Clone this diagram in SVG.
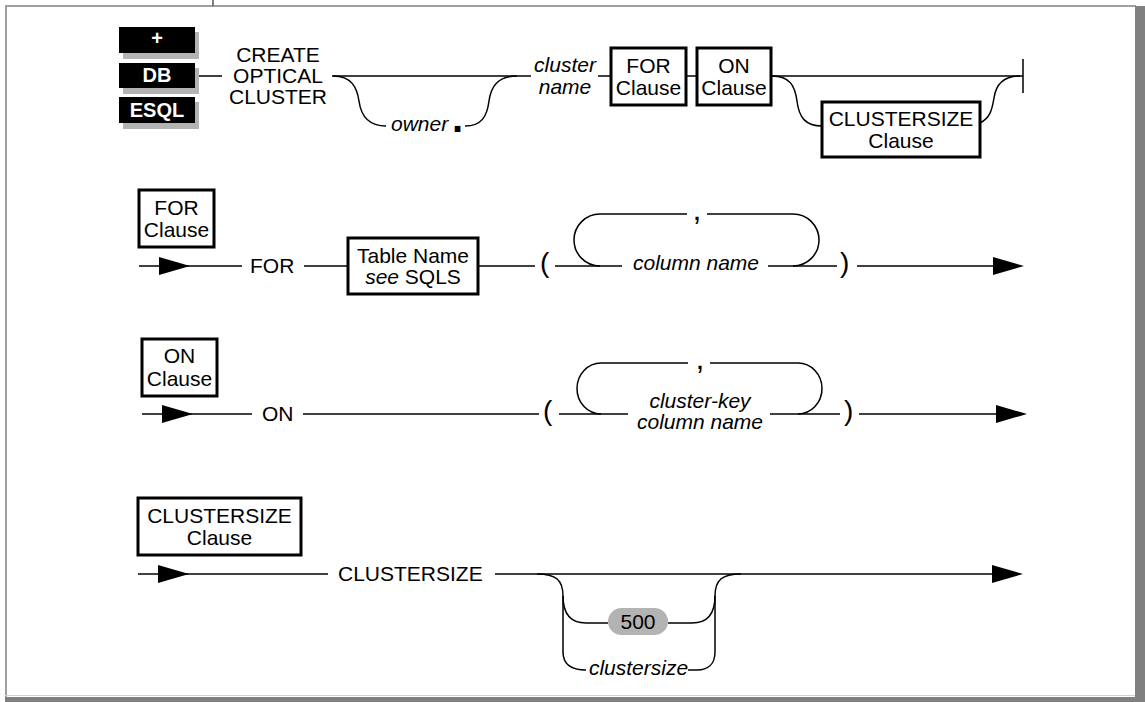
<svg xmlns="http://www.w3.org/2000/svg" width="1145" height="702" viewBox="0 0 1145 702">
<style>
text{font-family:"Liberation Sans",Arial,sans-serif;font-size:21px;fill:#000}
.it{font-style:italic}
.mid{text-anchor:middle}
.badge{font-weight:bold;fill:#fff;font-size:20px;text-anchor:middle}
.ln{fill:none;stroke:#000;stroke-width:1.5}
.box{fill:#fff;stroke:#000;stroke-width:3}
.shadow{fill:#b3b3b3}
.blk{fill:#000}
.paren{font-size:28px}
.comma{font-size:32px;text-anchor:middle}
</style>
<defs>
<polygon id="arr" points="0,-9 31,0 0,9" fill="#000"/>
</defs>
<rect x="0" y="0" width="1145" height="702" fill="#fff"/>
<g id="frame">
<rect x="5" y="5" width="1131" height="2" fill="#a0a0a0"/>
<rect x="5" y="5" width="2" height="692" fill="#a0a0a0"/>
<rect x="1135" y="6" width="10" height="696" fill="#808080"/>
<rect x="5" y="697" width="1140" height="5" fill="#808080"/>
<rect x="5" y="695" width="1130" height="1" fill="#d0d0d0"/>
<line x1="213" y1="0" x2="213" y2="6" stroke="#555" stroke-width="1.5"/>
</g>
<g id="badges">
<rect class="shadow" x="123" y="32" width="76" height="27"/>
<rect class="blk" x="119" y="27" width="76" height="26"/>
<text class="badge" x="157" y="45">+</text>
<rect class="shadow" x="123" y="68" width="76" height="26"/>
<rect class="blk" x="119" y="63" width="76" height="25"/>
<text class="badge" x="157" y="82">DB</text>
<rect class="shadow" x="123" y="102" width="76" height="27"/>
<rect class="blk" x="119" y="97" width="76" height="26"/>
<text class="badge" x="157" y="117">ESQL</text>
</g>
<g id="connectors">
<path class="ln" d="M199,76 H222"/>
<path class="ln" d="M332,76 H531"/>
<path class="ln" d="M333,76 C352,76 357,88 359,101 C361,116 368,126 386,126"/>
<path class="ln" d="M465,126 C482,126 487,116 489,101 C491,86 498,76 517,76"/>
<path class="ln" d="M598,76 H611"/>
<path class="ln" d="M686,76 H697"/>
<path class="ln" d="M771,76 H1023"/>
<path class="ln" d="M1023,59 V93"/>
<path class="ln" d="M772,76 C790,76 795,86 797,101 C799,118 806,126 822,126"/>
<path class="ln" d="M980,123 C990,118 992,110 994,98 C996,84 1004,76 1020,76"/>
<path class="ln" d="M139,266 H242"/>
<use href="#arr" x="159" y="266"/>
<path class="ln" d="M304,266 H348"/>
<path class="ln" d="M478,266 H535"/>
<path class="ln" d="M555,266 H622"/>
<path class="ln" d="M768,266 H837"/>
<path class="ln" d="M600,266 A26,26 0 0 1 600,214 H687"/>
<path class="ln" d="M707,214 H793 A26,26 0 0 1 793,266"/>
<path class="ln" d="M857,266 H995"/>
<use href="#arr" x="993" y="266"/>
<path class="ln" d="M142,414 H252"/>
<use href="#arr" x="162" y="414"/>
<path class="ln" d="M303,414 H539"/>
<path class="ln" d="M559,414 H628"/>
<path class="ln" d="M770,414 H840"/>
<path class="ln" d="M601,414 A24,25.5 0 0 1 601,363 H688"/>
<path class="ln" d="M710,363 H798 A24,25.5 0 0 1 798,414"/>
<path class="ln" d="M859,414 H998"/>
<use href="#arr" x="996" y="414"/>
<path class="ln" d="M138,574 H328"/>
<use href="#arr" x="158" y="574"/>
<path class="ln" d="M495,574 H994"/>
<use href="#arr" x="992" y="574"/>
<path class="ln" d="M537,574 C556,574 563,580 563,596 V652 C563,664 570,670 586,670"/>
<path class="ln" d="M563,596 C563,614 570,623 586,623 H608"/>
<path class="ln" d="M668,623 H692 C708,623 715,614 715,596"/>
<path class="ln" d="M688,670 H697 C708,670 715,664 715,652 V596 C715,580 722,574 741,574"/>
</g>
<g id="n-create">
<text class="mid" x="278" y="62">CREATE</text>
<text class="mid" x="278" y="83">OPTICAL</text>
<text class="mid" x="278" y="104">CLUSTER</text>
</g>
<g id="n-owner">
<text class="it" x="391" y="131">owner</text>
<text x="452" y="132" style="font-size:40px;font-weight:bold">.</text>
</g>
<g id="n-clustername">
<text class="it mid" x="565" y="72">cluster</text>
<text class="it mid" x="565" y="94">name</text>
</g>
<g id="n-forclause-top">
<rect class="box" x="611" y="48" width="75" height="57"/>
<text class="mid" x="648.5" y="73">FOR</text>
<text class="mid" x="648.5" y="95">Clause</text>
</g>
<g id="n-onclause-top">
<rect class="box" x="697" y="48" width="74" height="57"/>
<text class="mid" x="734" y="73">ON</text>
<text class="mid" x="734" y="95">Clause</text>
</g>
<g id="n-csclause-top">
<rect class="box" x="822" y="102" width="158" height="55"/>
<text class="mid" x="901" y="126">CLUSTERSIZE</text>
<text class="mid" x="901" y="148">Clause</text>
</g>
<g id="n-forclause">
<rect class="box" x="139" y="190" width="75" height="57"/>
<text class="mid" x="176.5" y="215">FOR</text>
<text class="mid" x="176.5" y="237">Clause</text>
</g>
<g id="n-for"><text x="250" y="273">FOR</text></g>
<g id="n-tablename">
<rect class="box" x="348" y="238" width="130" height="56"/>
<text class="mid" x="413" y="263">Table Name</text>
<text class="mid" x="413" y="284"><tspan class="it">see</tspan> SQLS</text>
</g>
<g id="n-for-paren">
<text class="paren" x="540" y="272">(</text>
<text class="comma" x="697" y="220">,</text>
<text class="it mid" x="696" y="270">column name</text>
<text class="paren" x="840" y="272">)</text>
</g>
<g id="n-onclause">
<rect class="box" x="142" y="339" width="75" height="57"/>
<text class="mid" x="179.5" y="363">ON</text>
<text class="mid" x="179.5" y="386">Clause</text>
</g>
<g id="n-on"><text x="262" y="421">ON</text></g>
<g id="n-on-paren">
<text class="paren" x="543" y="420">(</text>
<text class="comma" x="700" y="369">,</text>
<text class="it mid" x="700" y="408">cluster-key</text>
<text class="it mid" x="700" y="429">column name</text>
<text class="paren" x="844" y="420">)</text>
</g>
<g id="n-csclause">
<rect class="box" x="138" y="498" width="163" height="57"/>
<text class="mid" x="219.5" y="523">CLUSTERSIZE</text>
<text class="mid" x="219.5" y="545">Clause</text>
</g>
<g id="n-clustersize"><text x="338" y="581">CLUSTERSIZE</text></g>
<g id="n-500">
<rect x="608" y="608" width="60" height="27" rx="13.5" fill="#b3b3b3"/>
<text class="mid" x="638" y="629">500</text>
</g>
<g id="n-clustersize-val">
<text class="it mid" x="638.5" y="675">clustersize</text>
</g>
</svg>
